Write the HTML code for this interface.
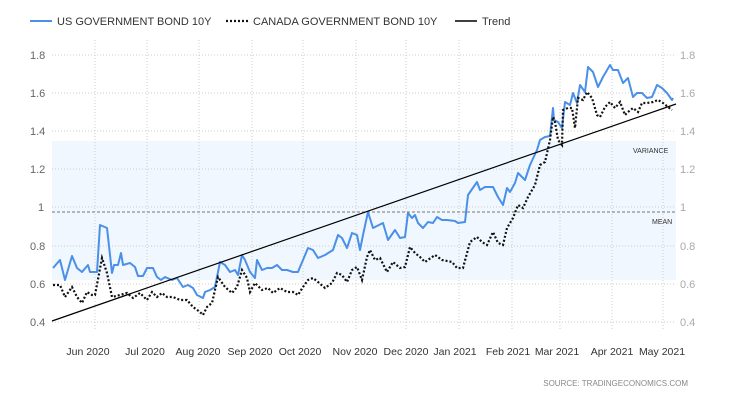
<!DOCTYPE html><html><head><style>body{margin:0;background:#fff}svg{font-family:"Liberation Sans",sans-serif}</style></head><body>
<svg width="730" height="400" xmlns="http://www.w3.org/2000/svg">
<rect width="730" height="400" fill="#fff"/>
<rect x="52" y="141" width="624" height="139" fill="#f0f7fe"/>
<g stroke="#ccc" stroke-dasharray="1,2" stroke-width="1">
<line x1="52" x2="676" y1="55" y2="55"/><line x1="52" x2="676" y1="93" y2="93"/><line x1="52" x2="676" y1="131" y2="131"/><line x1="52" x2="676" y1="169" y2="169"/><line x1="52" x2="676" y1="207" y2="207"/><line x1="52" x2="676" y1="246" y2="246"/><line x1="52" x2="676" y1="284" y2="284"/><line x1="52" x2="676" y1="322" y2="322"/>
<line y1="40" y2="330" x1="95" x2="95"/><line y1="40" y2="330" x1="147" x2="147"/><line y1="40" y2="330" x1="199" x2="199"/><line y1="40" y2="330" x1="252" x2="252"/><line y1="40" y2="330" x1="303" x2="303"/><line y1="40" y2="330" x1="356" x2="356"/><line y1="40" y2="330" x1="406" x2="406"/><line y1="40" y2="330" x1="459" x2="459"/><line y1="40" y2="330" x1="512" x2="512"/><line y1="40" y2="330" x1="560" x2="560"/><line y1="40" y2="330" x1="612" x2="612"/><line y1="40" y2="330" x1="663" x2="663"/>
</g>
<line x1="52" x2="676" y1="212" y2="212" stroke="#777" stroke-dasharray="3,2"/>
<g font-size="11" fill="#666">
<text x="30" y="59">1.8</text><text x="30" y="97">1.6</text><text x="30" y="135">1.4</text><text x="30" y="173">1.2</text><text x="38" y="211">1</text><text x="30" y="250">0.8</text><text x="30" y="288">0.6</text><text x="30" y="326">0.4</text>
</g>
<g font-size="11" fill="#aaa">
<text x="680" y="59">1.8</text><text x="680" y="97">1.6</text><text x="680" y="135">1.4</text><text x="680" y="173">1.2</text><text x="680" y="211">1</text><text x="680" y="250">0.8</text><text x="680" y="288">0.6</text><text x="680" y="326">0.4</text>
</g>
<g font-size="7" fill="#333"><text x="633" y="153">VARIANCE</text><text x="652" y="224">MEAN</text></g>
<polyline fill="none" stroke="#4a90e8" stroke-width="2" stroke-linejoin="round" points="53,268 60,260 65,280 72,256 77,268 82,272 88,265 90,272 97,272 100,225 107,228 112,273 114,265 118,265 121,253 123,265 130,263 135,267 138,276 143,276 147,268 153,268 157,277 161,280 165,277 172,280 177,278 183,287 188,285 193,288 197,295 203,298 205,292 210,290 215,287 220,262 225,265 230,272 235,270 238,275 242,255 245,260 250,272 255,278 257,260 262,270 267,268 272,268 277,265 282,270 287,270 293,272 298,272 300,267 303,260 308,248 313,250 318,258 325,255 333,250 338,235 342,238 347,248 352,233 357,235 360,250 363,235 368,212 373,228 377,226 383,223 388,240 395,230 400,238 405,237 408,213 412,218 415,215 418,223 423,228 428,222 433,223 437,217 442,220 447,220 455,221 458,223 465,222 468,195 477,182 480,190 485,187 493,187 498,197 503,205 507,188 510,192 515,183 518,173 525,180 530,165 537,150 540,140 545,137 550,136 553,108 554,120 558,122 562,128 565,102 570,105 573,93 577,103 580,85 585,92 588,67 593,72 598,87 603,77 610,65 613,70 618,70 623,83 628,78 633,97 637,93 642,93 647,98 652,97 657,85 662,88 667,93 672,100 673,98"/>
<polyline fill="none" stroke="#111" stroke-width="2.2" stroke-dasharray="2,2" points="53,285 60,285 65,297 72,287 77,297 82,303 87,292 92,295 95,295 102,258 107,273 112,297 120,295 127,293 133,298 140,293 147,300 152,292 157,297 162,293 167,297 173,297 180,300 187,300 193,307 200,312 203,315 207,307 212,303 218,277 225,287 232,293 237,287 242,270 247,278 250,292 255,283 262,290 268,288 273,293 280,288 287,292 293,292 298,295 303,287 308,280 313,278 318,282 325,288 332,283 337,273 342,275 347,282 352,270 357,267 362,280 367,257 370,250 375,260 380,258 387,272 393,262 400,268 405,267 410,247 415,253 420,257 425,262 435,255 442,260 452,262 457,268 463,268 470,242 477,237 482,242 487,245 493,232 498,243 503,245 507,228 513,218 518,205 523,208 528,197 535,185 540,165 545,162 550,140 553,117 555,122 558,140 562,145 563,110 568,108 572,108 575,128 578,98 583,100 587,92 592,98 597,115 600,117 605,107 610,102 615,108 620,102 625,115 628,112 633,108 638,112 642,103 647,103 653,102 658,100 663,103 668,107 672,110"/>
<line x1="52" y1="321" x2="676" y2="104" stroke="#000" stroke-width="1.2"/>
<g font-size="10.5" fill="#333" text-anchor="middle">
<text x="88" y="355">Jun 2020</text><text x="145" y="355">Jul 2020</text><text x="198" y="355">Aug 2020</text><text x="250" y="355">Sep 2020</text><text x="300" y="355">Oct 2020</text><text x="355" y="355">Nov 2020</text><text x="406" y="355">Dec 2020</text><text x="455" y="355">Jan 2021</text><text x="508" y="355">Feb 2021</text><text x="557" y="355">Mar 2021</text><text x="612" y="355">Apr 2021</text><text x="662" y="355">May 2021</text>
</g>
<text x="688" y="386" font-size="8" fill="#888" text-anchor="end">SOURCE:  TRADINGECONOMICS.COM</text>
<g font-size="11" fill="#333">
<line x1="30" y1="21" x2="52" y2="21" stroke="#4a90e8" stroke-width="2"/><text x="57" y="25">US GOVERNMENT BOND 10Y</text>
<line x1="226" y1="21" x2="248" y2="21" stroke="#111" stroke-width="2.2" stroke-dasharray="2,2"/><text x="253" y="25">CANADA GOVERNMENT BOND 10Y</text>
<line x1="455" y1="21" x2="477" y2="21" stroke="#000" stroke-width="1.5"/><text x="482" y="25">Trend</text>
</g>
</svg></body></html>
